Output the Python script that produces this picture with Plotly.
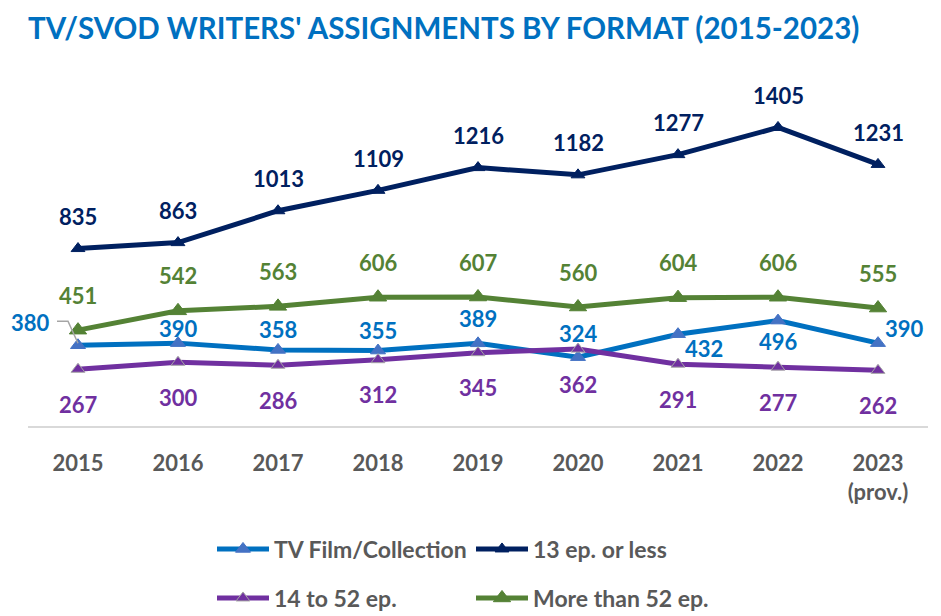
import plotly.graph_objects as go

years = ["2015", "2016", "2017", "2018", "2019", "2020", "2021", "2022", "2023"]
tick_text = ["2015", "2016", "2017", "2018", "2019", "2020", "2021", "2022", "2023<br>(prov.)"]
tv_film = [380, 390, 358, 355, 389, 324, 432, 496, 390]
ep_13_or_less = [835, 863, 1013, 1109, 1216, 1182, 1277, 1405, 1231]
ep_14_to_52 = [267, 300, 286, 312, 345, 362, 291, 277, 262]
ep_more_52 = [451, 542, 563, 606, 607, 560, 604, 606, 555]

x_pos = list(range(len(years)))

FONT = "Lato"
GRAY = "#595959"

series = [
    dict(name="TV Film/Collection", y=tv_film, line="#0070C0", marker="#4472C4",
         mline="#4472C4", msize=13, legend="legend"),
    dict(name="13 ep. or less", y=ep_13_or_less, line="#002060", marker="#002060",
         mline="#002060", msize=12, legend="legend"),
    dict(name="14 to 52 ep.", y=ep_14_to_52, line="#7030A0", marker="#7030A0",
         mline="#A5A5A5", msize=12, legend="legend2"),
    dict(name="More than 52 ep.", y=ep_more_52, line="#548235", marker="#548235",
         mline="#548235", msize=15, legend="legend2"),
]

fig = go.Figure()
for s in series:
    fig.add_trace(go.Scatter(
        x=x_pos, y=s["y"], name=s["name"], mode="lines+markers",
        line=dict(color=s["line"], width=5),
        marker=dict(symbol="triangle-up", size=s["msize"], color=s["marker"],
                    line=dict(color=s["mline"], width=1)),
        legend=s["legend"], hoverinfo="skip",
    ))

# label offsets (pixels) per series
blue_off = [(-48, 23), (0, 15), (0, 20), (0, 20), (0, 25), (0, 24), (26, -14), (0, -21), (26, 15)]
navy_off = [(0, 32)] * 9
purple_off = [(0, -35)] * 9
green_off = [(0, 35)] * 9

label_sets = [
    (tv_film, blue_off, "#0070C0"),
    (ep_13_or_less, navy_off, "#002060"),
    (ep_14_to_52, purple_off, "#7030A0"),
    (ep_more_52, green_off, "#548235"),
]
for vals, offs, col in label_sets:
    for xp, v, (dx, dy) in zip(x_pos, vals, offs):
        fig.add_annotation(x=xp, y=v, text=str(v), showarrow=False,
                           xshift=dx, yshift=dy,
                           font=dict(family=FONT, size=22, color=col, weight="bold"))

# leader line for the first TV Film label
fig.add_shape(type="path", xref="x", yref="y", xsizemode="pixel", ysizemode="pixel",
              xanchor=x_pos[0], yanchor=tv_film[0],
              path="M-21,24 L-10,24 L0,2",
              line=dict(color="#A5A5A5", width=1.5))

leg_common = dict(orientation="h", x=(212 - 28) / 900, xanchor="left", yanchor="middle",
                  entrywidth=192, entrywidthmode="pixels", itemwidth=52,
                  font=dict(family=FONT, size=23, color=GRAY, weight="bold"),
                  bgcolor="rgba(0,0,0,0)")

fig.update_layout(
    width=941, height=616,
    margin=dict(l=20, r=21, t=78, b=198, autoexpand=False),
    paper_bgcolor="white", plot_bgcolor="white",
    title=dict(text="<b>TV/SVOD WRITERS' ASSIGNMENTS BY FORMAT (2015-2023)</b>",
               x=20 / 941, xanchor="left", xref="container",
               y=1 - 10 / 616, yanchor="top", yref="container", pad=dict(t=0, b=0),
               font=dict(family=FONT, size=29.5, color="#0070C0")),
    xaxis=dict(range=[-0.5, len(years) - 0.5],
               tickmode="array", tickvals=x_pos, ticktext=tick_text,
               showline=True, linecolor="#D9D9D9", linewidth=2,
               showgrid=False, zeroline=False, ticks="",
               ticklabelstandoff=17,
               tickfont=dict(family=FONT, size=22, color=GRAY, weight="bold")),
    yaxis=dict(range=[0, 1600], visible=False, showgrid=False),
    showlegend=True,
    legend=dict(leg_common, y=(426 - 549) / 340),
    legend2=dict(leg_common, y=(426 - 598) / 340),
)

fig.write_html("out.html")
